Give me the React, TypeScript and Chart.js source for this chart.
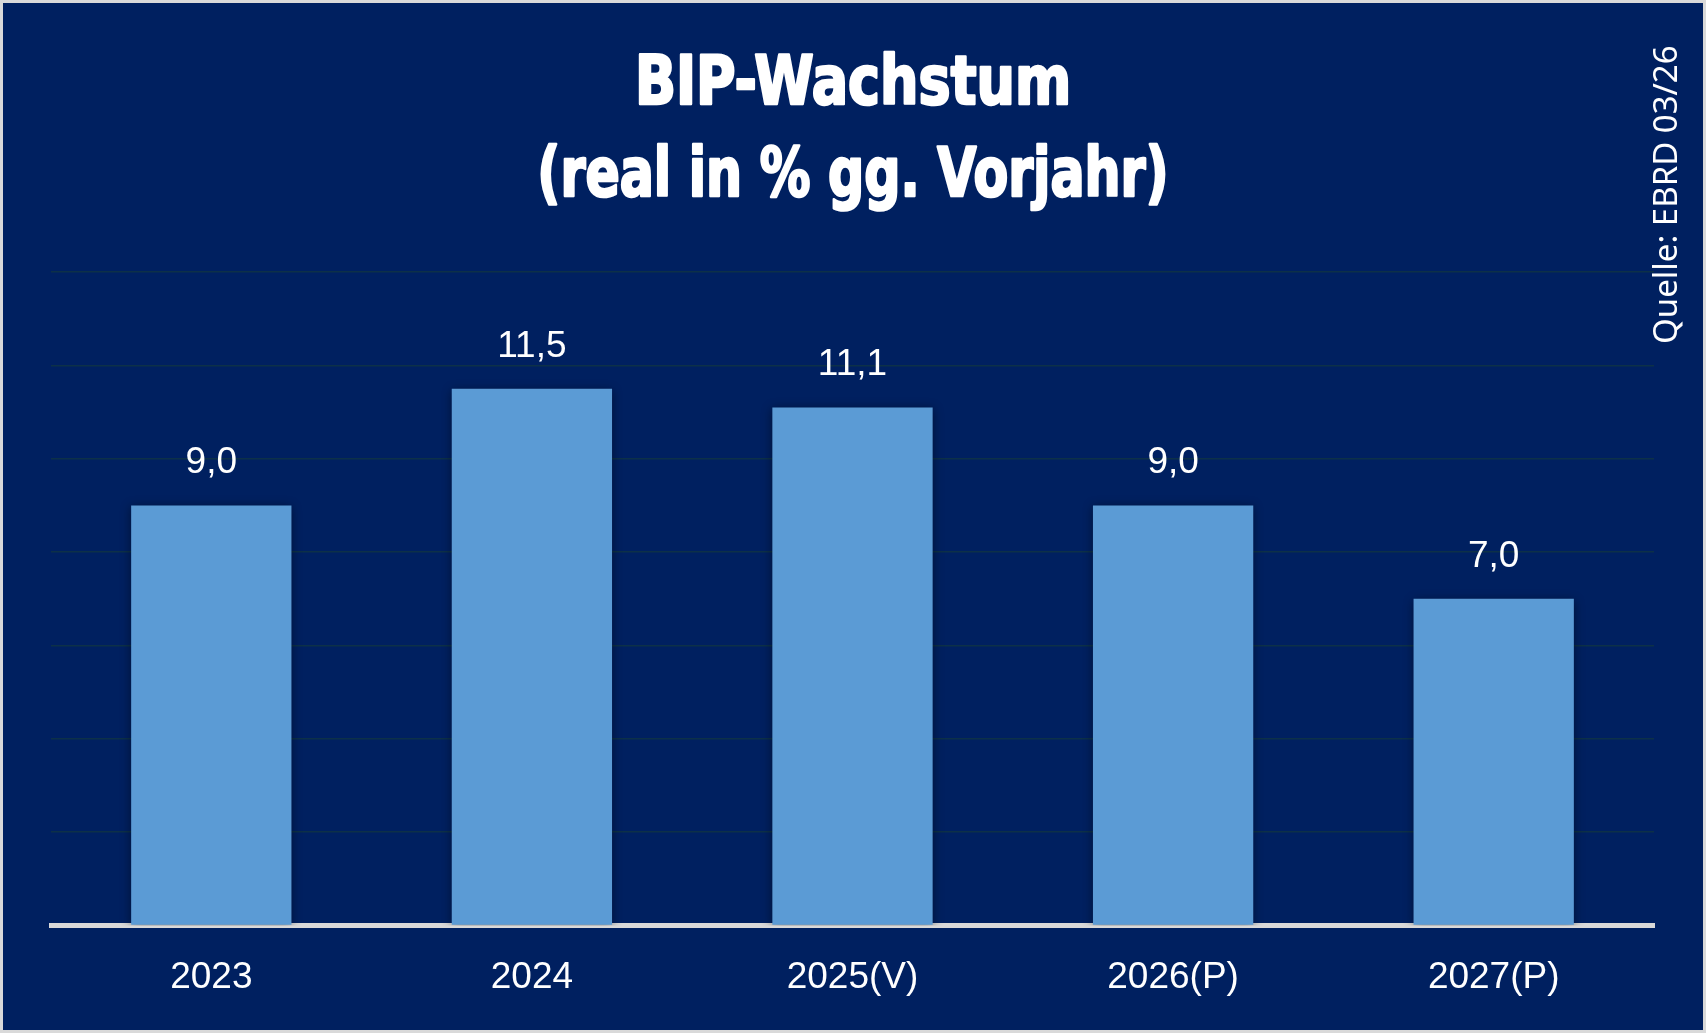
import React, { useEffect, useRef } from "react";
import { Chart, registerables } from "chart.js";

Chart.register(...registerables);

const categories: string[] = ["2023", "2024", "2025(V)", "2026(P)", "2027(P)"];
const growth: number[] = [9.0, 11.5, 11.1, 9.0, 7.0];
const titleLines: string[] = ["BIP-Wachstum", "(real in % gg. Vorjahr)"];
const sourceText = "Quelle: EBRD 03/26";

const BG = "#002060";
const FRAME = "#D9D9D9";
const BAR = "#5B9BD5";
const GRID = "#0d3048";

// title layout (baseline y, target width)
const TITLE_BASELINES = [104, 196];
const TITLE_WIDTHS = [438, 633];

const framePlugin = {
  id: "frame",
  beforeDraw(chart: any) {
    const { ctx, width, height } = chart;
    ctx.save();
    ctx.fillStyle = FRAME;
    ctx.fillRect(0, 0, width, height);
    ctx.fillStyle = BG;
    ctx.fillRect(3, 3, width - 6, height - 6);
    ctx.restore();
  },
};

const shadowPlugin = {
  id: "barShadow",
  beforeDatasetsDraw(chart: any) {
    const ctx = chart.ctx;
    ctx.save();
    ctx.shadowColor = "rgba(0,0,0,0.45)";
    ctx.shadowBlur = 10;
    ctx.shadowOffsetX = 0;
    ctx.shadowOffsetY = 2;
  },
  afterDatasetsDraw(chart: any) {
    chart.ctx.restore();
  },
};

const textPlugin = {
  id: "texts",
  afterDraw(chart: any) {
    const { ctx, width } = chart;
    ctx.save();
    ctx.fillStyle = "#FFFFFF";
    // value labels
    ctx.font = "37px 'Liberation Sans', Arial, sans-serif";
    ctx.textAlign = "center";
    ctx.textBaseline = "alphabetic";
    const meta = chart.getDatasetMeta(0);
    meta.data.forEach((el: any, i: number) => {
      const v = chart.data.datasets[0].data[i] as number;
      ctx.fillText(v.toFixed(1).replace(".", ","), el.x, el.y - 32);
    });
    // title (condensed bold)
    ctx.font = "bold 68px 'DejaVu Sans Condensed', 'DejaVu Sans', sans-serif";
    ctx.strokeStyle = "#FFFFFF";
    ctx.lineWidth = 2.5;
    ctx.lineJoin = "round";
    titleLines.forEach((line, i) => {
      const w = ctx.measureText(line).width;
      const sx = TITLE_WIDTHS[i] / (w + 2);
      ctx.save();
      ctx.translate(width / 2, TITLE_BASELINES[i]);
      ctx.scale(sx, 1);
      ctx.textAlign = "center";
      ctx.fillText(line, 0, 0);
      ctx.strokeText(line, 0, 0);
      ctx.restore();
    });
    // source text
    ctx.font = "33px 'Noto Sans', 'Open Sans', sans-serif";
    ctx.textAlign = "left";
    ctx.textBaseline = "middle";
    ctx.translate(1667.5, 344);
    ctx.rotate(-Math.PI / 2);
    ctx.fillText(sourceText, 0, 0);
    ctx.restore();
  },
};

export default function App() {
  const canvasRef = useRef<HTMLCanvasElement | null>(null);

  useEffect(() => {
    document.body.style.margin = "0";
    if (!canvasRef.current) return;
    const chart = new Chart(canvasRef.current, {
      type: "bar",
      data: {
        labels: categories,
        datasets: [
          {
            data: growth,
            backgroundColor: BAR,
            borderWidth: 0,
            barPercentage: 0.5,
            categoryPercentage: 1,
          },
        ],
      },
      options: {
        animation: false,
        responsive: true,
        maintainAspectRatio: false,
        layout: { padding: { top: 272, left: 51, right: 52, bottom: 3 } },
        plugins: {
          legend: { display: false },
          tooltip: { enabled: false },
          title: { display: false },
        },
        scales: {
          x: {
            z: 1,
            grid: { display: false, drawTicks: false },
            border: { display: true, color: FRAME, width: 5 },
            ticks: {
              color: "#FFFFFF",
              padding: 30,
              font: { family: "'Liberation Sans', Arial, sans-serif", size: 37 },
            },
          },
          y: {
            min: 0,
            max: 14,
            ticks: { display: false, stepSize: 2 },
            grid: { color: GRID, lineWidth: 1.5, drawTicks: false },
            border: { display: false },
          },
        },
      },
      plugins: [framePlugin, shadowPlugin, textPlugin],
    });
    return () => chart.destroy();
  }, []);

  return (
    <div style={{ position: "fixed", left: 0, top: 0, width: "100vw", height: "100vh" }}>
      <canvas ref={canvasRef} />
    </div>
  );
}
